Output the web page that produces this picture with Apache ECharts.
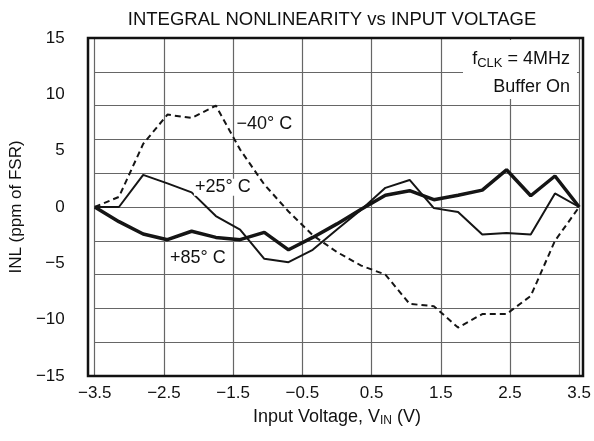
<!DOCTYPE html>
<html>
<head>
<meta charset="utf-8">
<script src="https://cdn.jsdelivr.net/npm/echarts/dist/echarts.min.js"></script>
<style>html,body{margin:0;padding:0;background:#fff}#c{width:594px;height:441px}</style>
</head>
<body>
<div id="c"></div>
<script>
// ---- data ----
const vin = [-3.5, -3.15, -2.8, -2.45, -2.1, -1.75, -1.4, -1.05, -0.7, -0.35, 0, 0.35, 0.7, 1.05, 1.4, 1.75, 2.1, 2.45, 2.8, 3.15, 3.5];
const inlMinus40 = [0, 0.9, 5.6, 8.2, 7.9, 9.0, 5.1, 2.0, -0.4, -2.5, -4.0, -5.2, -6.0, -8.6, -8.8, -10.7, -9.5, -9.5, -7.9, -3.0, 0];
const inlPlus25 = [0, 0, 2.85, 2.1, 1.3, -0.8, -2.0, -4.6, -4.9, -3.8, -2.0, -0.25, 1.7, 2.4, -0.1, -0.45, -2.45, -2.3, -2.45, 1.2, 0];
const inlPlus85 = [0, -1.3, -2.4, -2.9, -2.15, -2.7, -2.9, -2.25, -3.8, -2.7, -1.5, -0.2, 1.05, 1.45, 0.65, 1.05, 1.5, 3.3, 1.0, 2.75, 0];
const seriesNames = ['\u221240\u00b0 C', '+25\u00b0 C', '+85\u00b0 C'];
const labelAt = [[-1.05, 7.35], [-1.65, 1.75], [-2.01, -4.5]];
const xRange = [-3.5, 3.5], xStep = 1;
const yRange = [-15, 15], yGridStep = 3, yLabelStep = 5;
const titleText = 'INTEGRAL NONLINEARITY vs INPUT VOLTAGE';
const noteLines = ['f{sub|CLK} = 4MHz', 'Buffer On'];

// ---- chart ----
const FONT = "'Liberation Sans', Arial, Helvetica, sans-serif";
const W = 594, H = 441;
const G = {left: 88, right: 11, top: 38, bottom: 65};
const plotW = W - G.left - G.right, plotH = H - G.top - G.bottom;
const TXT = '#111';
const LINE = '#151515';
const minus = s => String(s).replace('-', '\u2212');
const pts = arr => vin.map((x, i) => [x, arr[i]]);

function mp(i) {
  return {
    symbol: 'rect', symbolSize: 1, silent: true,
    itemStyle: {color: 'rgba(0,0,0,0)'},
    label: {show: true, position: 'inside', formatter: seriesNames[i], fontSize: 18, fontFamily: FONT,
            color: TXT, backgroundColor: '#fff', padding: [0, 1], lineHeight: 17},
    data: [{coord: labelAt[i]}]
  };
}

const chart = echarts.init(document.getElementById('c'), null, {renderer: 'canvas'});
chart.setOption({
  animation: false,
  backgroundColor: '#fff',
  textStyle: {fontFamily: FONT},
  grid: {left: G.left, right: G.right, top: G.top, bottom: G.bottom},
  xAxis: {
    type: 'value', min: xRange[0], max: xRange[1], interval: xStep,
    axisLine: {show: false}, axisTick: {show: false},
    splitLine: {show: true, lineStyle: {color: '#666', width: 1.2}},
    axisLabel: {fontSize: 17, color: TXT, margin: 9, fontFamily: FONT, formatter: v => minus(v.toFixed(1))},
    name: 'Input Voltage, V{sub|IN} (V)', nameLocation: 'middle', nameGap: 23,
    nameTextStyle: {fontSize: 18, color: TXT, fontFamily: FONT, lineHeight: 20,
                    rich: {sub: {fontSize: 12, fontFamily: FONT, color: TXT, verticalAlign: 'bottom', lineHeight: 10}}}
  },
  yAxis: [
    {type: 'value', min: yRange[0], max: yRange[1], interval: yGridStep,
     axisLine: {show: false}, axisTick: {show: false}, axisLabel: {show: false},
     splitLine: {show: true, lineStyle: {color: '#666', width: 1.2}}},
    {type: 'value', min: yRange[0], max: yRange[1], interval: yLabelStep, position: 'left',
     axisLine: {show: false}, axisTick: {show: false}, splitLine: {show: false},
     axisLabel: {fontSize: 17, color: TXT, margin: 30, fontFamily: FONT, formatter: v => minus(v)},
     name: 'INL (ppm of FSR)', nameLocation: 'middle', nameGap: 63, nameRotate: 90,
     nameTextStyle: {fontSize: 17, color: TXT, fontFamily: FONT}}
  ],
  series: [
    {type: 'line', name: seriesNames[0], data: pts(inlMinus40), symbol: 'none', z: 3,
     lineStyle: {color: LINE, width: 2, type: [6, 4]}, markPoint: mp(0)},
    {type: 'line', name: seriesNames[1], data: pts(inlPlus25), symbol: 'none', z: 4,
     lineStyle: {color: LINE, width: 2}, markPoint: mp(1)},
    {type: 'line', name: seriesNames[2], data: pts(inlPlus85), symbol: 'none', z: 5,
     lineStyle: {color: LINE, width: 3.5}, markPoint: mp(2)}
  ],
  graphic: [
    {type: 'text', x: 332, y: 20, z: 10,
     style: {text: titleText, fontSize: 18.5, fontFamily: FONT, fill: TXT, align: 'center', verticalAlign: 'middle'}},
    {type: 'rect', x: 463, y: 40, z: 20, shape: {width: 114, height: 59}, style: {fill: '#fff'}},
    {type: 'text', x: 570, y: 59, z: 21,
     style: {text: noteLines[0], fontSize: 18, fontFamily: FONT, fill: TXT, align: 'right', verticalAlign: 'middle', lineHeight: 22,
             rich: {sub: {fontSize: 13, fontFamily: FONT, fill: TXT, verticalAlign: 'bottom', lineHeight: 10}}}},
    {type: 'text', x: 570, y: 87, z: 21,
     style: {text: noteLines[1], fontSize: 18, fontFamily: FONT, fill: TXT, align: 'right', verticalAlign: 'middle'}},
    {type: 'rect', x: G.left, y: G.top, z: 50, silent: true,
     shape: {width: plotW, height: plotH}, style: {fill: 'none', stroke: '#111', lineWidth: 2.5}}
  ]
});
</script>
</body>
</html>
